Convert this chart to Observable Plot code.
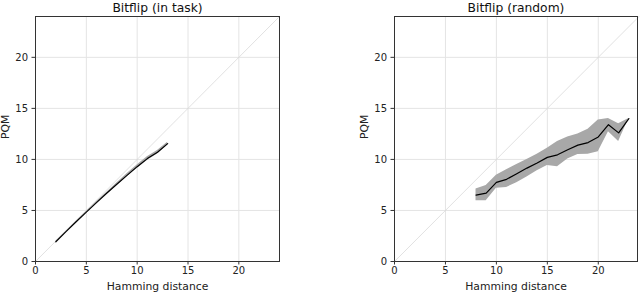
<!DOCTYPE html>
<html>
<head>
<meta charset="utf-8">
<script src="https://cdn.jsdelivr.net/npm/d3@7"></script>
<script src="https://cdn.jsdelivr.net/npm/@observablehq/plot@0.6"></script>
<style>
  html, body { margin: 0; padding: 0; background: white; }
  #wrap { display: flex; width: 640px; height: 292px; }
  #wrap svg { display: block; }
</style>
</head>
<body>
<div id="wrap"></div>
<script>
// Tick values
const xTicks = [0, 5, 10, 15, 20];
const yTicks = [0, 5, 10, 15, 20];
const diag = [0, 24];

// Left panel: Bitflip (in task)
const leftTitle = "Bitflip (in task)";
const leftX    = [2, 3, 4, 5, 6, 7, 8, 9, 10, 11, 12, 13];
const leftMean = [1.93, 2.92, 3.89, 4.84, 5.77, 6.68, 7.57, 8.44, 9.29, 10.08, 10.7, 11.55];
const leftLo   = [1.88, 2.87, 3.83, 4.77, 5.69, 6.59, 7.45, 8.29, 9.12, 9.9, 10.52, 11.42];
const leftHi   = [1.98, 2.97, 3.95, 4.91, 5.85, 6.77, 7.69, 8.59, 9.46, 10.26, 10.88, 11.68];

// Right panel: Bitflip (random)
const rightTitle = "Bitflip (random)";
const rightX    = [8, 9, 10, 11, 12, 13, 14, 15, 16, 17, 18, 19, 20, 21, 22, 23];
const rightMean = [6.5, 6.7, 7.75, 8.05, 8.6, 9.15, 9.65, 10.2, 10.45, 10.95, 11.4, 11.65, 12.2, 13.4, 12.6, 14.0];
const rightHi   = [7.1, 7.45, 8.45, 9.0, 9.5, 10.0, 10.5, 11.1, 11.75, 12.2, 12.5, 12.95, 13.85, 14.0, 13.5, 14.0];
const rightLo   = [5.95, 5.95, 7.18, 7.25, 7.72, 8.28, 8.88, 9.4, 9.28, 10.03, 10.48, 10.5, 10.75, 12.7, 11.75, 14.0];

function panel({title, xs, mean, lo, hi, marginLeft, marginRight, xMax}) {
  const rows = xs.map((x, i) => ({x, m: mean[i], lo: lo[i], hi: hi[i]}));
  return Plot.plot({
    width: 320,
    height: 292,
    marginLeft,
    marginRight,
    marginTop: 16,
    marginBottom: 31,
    x: {domain: [0, xMax]},
    y: {domain: [0, 24]},
    style: {fontFamily: "DejaVu Sans", color: "#222", background: "white", overflow: "visible"},
    marks: [
      Plot.gridX(xTicks, {stroke: "#e4e4e4", strokeOpacity: 1, strokeWidth: 1}),
      Plot.gridY(yTicks, {stroke: "#e4e4e4", strokeOpacity: 1, strokeWidth: 1}),
      Plot.line(diag, {x: d => d, y: d => d, stroke: "#d4d4d4", strokeWidth: 0.7}),
      Plot.areaY(rows, {x: "x", y1: "lo", y2: "hi", fill: "#a8a8a8"}),
      Plot.line(rows, {x: "x", y: "m", stroke: "black", strokeWidth: 1.2}),
      Plot.frame({stroke: "#333", strokeWidth: 1}),
      Plot.axisX(xTicks, {tickSize: 3.5, tickPadding: 2, fontSize: 10, label: null, stroke: "#333"}),
      Plot.axisY(yTicks, {tickSize: 3.5, tickPadding: 4, fontSize: 10, label: null, stroke: "#333"}),
      Plot.text([title], {frameAnchor: "top", lineAnchor: "middle", dy: -8.5, fontSize: 12.3, fill: "#111"}),
      Plot.text(["Hamming distance"], {frameAnchor: "bottom", lineAnchor: "middle", dy: 25, fontSize: 10.8, fill: "#222"}),
      Plot.text(["PQM"], {frameAnchor: "left", lineAnchor: "middle", dx: -30, rotate: -90, fontSize: 10.8, fill: "#222"})
    ]
  });
}

const wrap = document.getElementById("wrap");
wrap.appendChild(panel({title: leftTitle, xs: leftX, mean: leftMean, lo: leftLo, hi: leftHi, marginLeft: 35, marginRight: 41, xMax: 24}));
wrap.appendChild(panel({title: rightTitle, xs: rightX, mean: rightMean, lo: rightLo, hi: rightHi, marginLeft: 74, marginRight: 3, xMax: 23.85}));
</script>
</body>
</html>
